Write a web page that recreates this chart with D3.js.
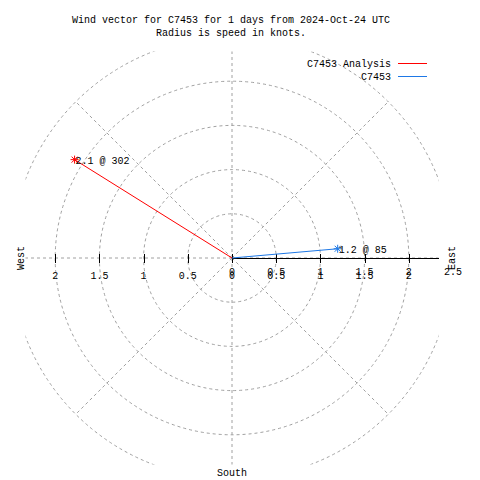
<!DOCTYPE html>
<html><head><meta charset="utf-8">
<script src="https://cdn.jsdelivr.net/npm/d3@7"></script>
<style>body{margin:0;background:#fff}svg{display:block}text{font-family:"Liberation Mono","DejaVu Sans Mono",monospace;font-size:10px;fill:#000}</style>
</head><body><svg id="c" width="480" height="480"></svg>
<script>
const titleLines = ["Wind vector for C7453 for 1 days from 2024-Oct-24 UTC", "Radius is speed in knots."];
const seriesNames = ["C7453 Analysis", "C7453"];
const speeds = [2.1, 1.2];
const directions = [302, 85];
const colors = ["#ff0000", "#1e78e6"];
const ringTicks = [0.5, 1, 1.5, 2, 2.5];
const axisTicks = [-2, -1.5, -1, -0.5, 0, 0.5, 1, 1.5, 2];
const radialTicks = [0, 0.5, 1, 1.5, 2, 2.5];
const spokeAngles = [0, 45, 90, 135, 180, 225, 270, 315];

const svg = d3.select("#c");
const cx = 232, cy = 258;
const r = d3.scaleLinear().domain([0, 2.5]).range([0, 221]);
const x = d3.scaleLinear().domain([-2.5, 2.5]).range([cx - 221, cx + 221]);
const clipHalf = 206.5;

svg.append("clipPath").attr("id", "clp").append("rect")
  .attr("x", cx - clipHalf).attr("y", cy - clipHalf).attr("width", 2 * clipHalf).attr("height", 2 * clipHalf);

const grid = svg.append("g").attr("clip-path", "url(#clp)")
  .attr("fill", "none").attr("stroke", "#a0a0a0").attr("stroke-width", 1).attr("stroke-dasharray", "3,3");
grid.selectAll("circle").data(ringTicks).join("circle")
  .attr("cx", cx).attr("cy", cy).attr("r", d => r(d));
grid.selectAll("line").data(spokeAngles).join("line")
  .attr("x1", cx).attr("y1", cy)
  .attr("x2", d => cx + r(2.5) * Math.sin(d * Math.PI / 180))
  .attr("y2", d => cy - r(2.5) * Math.cos(d * Math.PI / 180));

// east axis solid
svg.append("line").attr("x1", cx).attr("x2", cx + clipHalf).attr("y1", cy + 0.5).attr("y2", cy + 0.5)
  .attr("stroke", "#000").attr("shape-rendering", "crispEdges");
// ticks
svg.append("g").selectAll("line").data(axisTicks).join("line")
  .attr("x1", d => Math.round(x(d)) + 0.5).attr("x2", d => Math.round(x(d)) + 0.5)
  .attr("y1", cy - 4).attr("y2", cy + 5).attr("stroke", "#000").attr("shape-rendering", "crispEdges");
// tick labels (two overlapping sets as in reference)
svg.append("g").selectAll("text").data(axisTicks).join("text")
  .attr("x", d => x(d)).attr("y", cy + 21).attr("text-anchor", "middle")
  .text(d => d3.format("")(Math.abs(d)));
svg.append("g").selectAll("text").data(radialTicks).join("text")
  .attr("x", d => cx + r(d)).attr("y", cy + 17).attr("text-anchor", "middle")
  .text(d => d3.format("")(d));

// compass labels
svg.append("text").attr("transform", `translate(24,${cy}) rotate(-90)`).attr("text-anchor", "middle").text("West");
svg.append("text").attr("transform", `translate(455,${cy}) rotate(-90)`).attr("text-anchor", "middle").text("East");
svg.append("text").attr("x", cx).attr("y", 476).attr("text-anchor", "middle").text("South");

// vectors
const pts = speeds.map((s, i) => ({
  name: seriesNames[i], s, d: directions[i], c: colors[i],
  px: cx + r(s) * Math.sin(directions[i] * Math.PI / 180),
  py: cy - r(s) * Math.cos(directions[i] * Math.PI / 180)
}));
const vg = svg.append("g");
vg.selectAll("line").data(pts).join("line")
  .attr("x1", cx).attr("y1", cy).attr("x2", d => d.px).attr("y2", d => d.py)
  .attr("stroke", d => d.c).attr("stroke-width", 1);
const star = (px, py) => {
  const a = 4, b = 3;
  return `M${px - a},${py}L${px + a},${py}M${px},${py - a}L${px},${py + a}M${px - b},${py - b}L${px + b},${py + b}M${px - b},${py + b}L${px + b},${py - b}`;
};
vg.selectAll("path").data(pts).join("path")
  .attr("d", d => star(d.px, d.py)).attr("stroke", d => d.c).attr("fill", "none");
vg.selectAll("text").data(pts).join("text")
  .attr("x", d => d.px + 1).attr("y", d => d.py + 4)
  .text(d => `${d.s} @ ${d.d}`);

// title
svg.append("g").selectAll("text").data(titleLines).join("text")
  .attr("x", 231).attr("y", (d, i) => 23 + i * 13).attr("text-anchor", "middle").text(d => d);

// legend
const lg = svg.append("g").selectAll("g").data(pts).join("g")
  .attr("transform", (d, i) => `translate(0,${63 + i * 13})`);
lg.append("text").attr("x", 391).attr("y", 4).attr("text-anchor", "end").text(d => d.name);
lg.append("line").attr("x1", 398).attr("x2", 427).attr("y1", 0).attr("y2", 0)
  .attr("stroke", d => d.c).attr("shape-rendering", "crispEdges");
</script></body></html>
